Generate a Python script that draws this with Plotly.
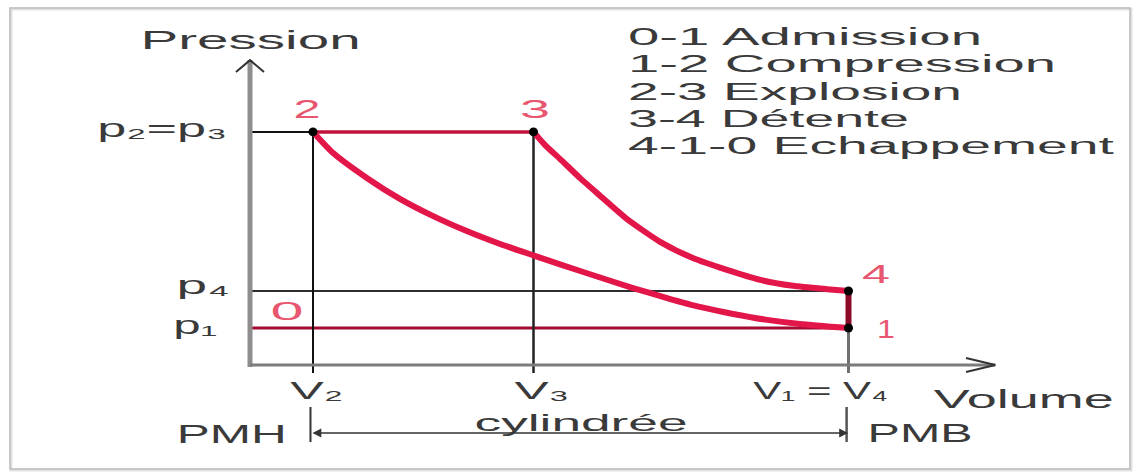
import json
import plotly.graph_objects as go

# ---------------- data (schematic units) ----------------
V2, V3, V1 = 10, 45, 95          # volumes V2, V3, V1 = V4
P1, P4, P2 = 10, 20, 63          # pressures p1, p4, p2 = p3
V_AXIS_END = 118.3               # end of volume axis arrow
P_AXIS_END = 82.4                # end of pressure axis arrow

compression_v = [10, 13.2, 18.6, 23.8, 29.0, 34.4, 39.7, 45.2, 52.4, 60.8, 66.2, 71.4, 76.7, 82.1, 87.3, 95]
compression_p = [63, 57.3, 50.5, 44.9, 40.3, 36.2, 32.7, 29.5, 25.4, 20.8, 18.1, 15.7, 13.8, 12.2, 11.1, 10]

detente_v = [45, 46.8, 49.2, 52.4, 55.6, 59.8, 65.1, 70.3, 75.7, 81.0, 86.2, 91.6, 95]
detente_p = [63, 59.5, 55.7, 50.5, 45.7, 39.5, 33.3, 28.9, 25.7, 23.0, 21.4, 20.5, 20]

point_names = ["2", "3", "4", "1"]
point_v = [V2, V3, V1, V1]
point_p = [P2, P2, P4, P1]

legend_lines = ["0-1 Admission", "1-2 Compression", "2-3 Explosion", "3-4 Détente", "4-1-0 Echappement"]

# ---------------- layout helpers (pixel -> axis units) ----------------
W, H = 1133, 472
OX, OY, KX, KY = 250, 365, 6.3, 3.7


def X(px):
    return (px - OX) / KX


def Y(py):
    return (OY - py) / KY


FONT = "Liberation Sans, Arial, DejaVu Sans, sans-serif"
TXT = "#3a3a3a"
RED_LBL = "#e8566f"
CRIMSON = "#e3164a"

fig = go.Figure()

# horizontal guide at p4 (dark) and admission line p1 (dark red)
fig.add_trace(go.Scatter(x=[0, V1], y=[P4, P4], mode="lines",
                         line=dict(color="#2e2e2e", width=2), hoverinfo="skip"))
fig.add_trace(go.Scatter(x=[0, V1], y=[P1, P1], mode="lines",
                         line=dict(color="#a10c30", width=3), hoverinfo="skip"))
# p2 guide from axis to V2
fig.add_trace(go.Scatter(x=[0, V2], y=[P2, P2], mode="lines",
                         line=dict(color="#111111", width=2), hoverinfo="skip"))
# vertical guides
for v, col, w in [(V2, "#111111", 2), (V3, "#222222", 2.5)]:
    fig.add_trace(go.Scatter(x=[v, v], y=[P2, Y(373)], mode="lines",
                             line=dict(color=col, width=w), hoverinfo="skip"))
fig.add_trace(go.Scatter(x=[V1, V1], y=[P1, Y(373)], mode="lines",
                         line=dict(color="#707070", width=3), hoverinfo="skip"))
# explosion 2-3
fig.add_trace(go.Scatter(x=[V2, V3], y=[P2, P2], mode="lines",
                         line=dict(color="#c0123a", width=3.5), hoverinfo="skip"))
# exhaust 4-1
fig.add_trace(go.Scatter(x=[V1, V1], y=[P4, P1], mode="lines",
                         line=dict(color="#8c0a28", width=6), hoverinfo="skip"))
# compression & detente curves
fig.add_trace(go.Scatter(x=compression_v, y=compression_p, mode="lines",
                         line=dict(color=CRIMSON, width=6, shape="spline", smoothing=0.6),
                         hoverinfo="skip"))
fig.add_trace(go.Scatter(x=detente_v, y=detente_p, mode="lines",
                         line=dict(color=CRIMSON, width=6, shape="spline", smoothing=0.6),
                         hoverinfo="skip"))
# state points
fig.add_trace(go.Scatter(x=point_v, y=point_p, mode="markers",
                         marker=dict(color="#000000", size=9), hoverinfo="skip"))

shapes = [
    # outer frame with soft shadow
    dict(type="rect", xref="paper", yref="paper", x0=11 / W, x1=1131 / W, y0=1 - 470 / H, y1=1 - 9 / H,
         line=dict(color="#e2e2e2", width=3)),
    dict(type="rect", xref="paper", yref="paper", x0=10 / W, x1=1130 / W, y0=1 - 469 / H, y1=1 - 8 / H,
         line=dict(color="#bdbdbd", width=1.5)),
    # axes
    dict(type="line", x0=0, x1=0, y0=Y(367), y1=P_AXIS_END, line=dict(color="#8e8e8e", width=5)),
    dict(type="line", x0=0, x1=V_AXIS_END, y0=0, y1=0, line=dict(color="#7c7c7c", width=3)),
    # arrow chevrons
    dict(type="path", path=f"M {X(236)},{Y(72)} L 0,{P_AXIS_END} L {X(264)},{Y(72)}",
         line=dict(color="#333333", width=2)),
    dict(type="path", path=f"M {X(966)},{Y(358)} L {V_AXIS_END},0 L {X(966)},{Y(372)}",
         line=dict(color="#333333", width=2)),
    # PMH / PMB ticks
    dict(type="line", x0=V2 - 0.4, x1=V2 - 0.4, y0=Y(407), y1=Y(442), line=dict(color="#333333", width=2)),
    dict(type="line", x0=V1 - 0.3, x1=V1 - 0.3, y0=Y(407), y1=Y(442), line=dict(color="#555555", width=2.5)),
]

annotations = []
widths = []


def label(text, xpx, ypx, width, size=25, color=TXT, xanchor="center"):
    annotations.append(dict(text=text, x=X(xpx), y=Y(ypx), xref="x", yref="y", showarrow=False,
                            xanchor=xanchor, yanchor="middle", align="left" if xanchor == "left" else "center",
                            font=dict(family=FONT, size=size, color=color)))
    widths.append(width)


label("Pression", 250, 40, 220, size=26)
for i, t in enumerate(legend_lines):
    w = [354, 428, 334, 281, 486][i]
    label(t, 626, 37 + 27.3 * i, w, size=23, xanchor="left")
label("p₂=p₃", 162, 128, 130)
label("p₄", 203, 285, 53)
label("p₁", 195, 325, 44)
label("V₂", 316, 390, 53, size=24)
label("V₃", 542, 390, 55, size=24)
label("V₁ = V₄", 820, 390, 135, size=24)
label("Volume", 1023, 399, 180)
label("cylindrée", 581, 422, 213, size=24)
label("PMH", 232, 434, 110)
label("PMB", 920, 433, 105)
# state point labels
label("2", 307, 109, 27, color=RED_LBL)
label("3", 535, 109, 30, color=RED_LBL)
label("4", 876, 274, 28, color=RED_LBL)
label("1", 886, 329, 18, color=RED_LBL)
label("0", 287, 311, 33, color=RED_LBL)

# cylindrée double arrow
annotations.append(dict(text="", x=X(848), y=Y(433), ax=X(311), ay=Y(433), xref="x", yref="y",
                        axref="x", ayref="y", showarrow=True, arrowside="end+start",
                        arrowhead=2, startarrowhead=2, arrowsize=1.1, startarrowsize=1.1,
                        arrowwidth=1.6, arrowcolor="#333333"))
widths.append(0)

fig.update_layout(
    width=W, height=H,
    margin=dict(l=0, r=0, t=0, b=0),
    paper_bgcolor="white", plot_bgcolor="white",
    showlegend=False,
    xaxis=dict(range=[X(0), X(W)], visible=False, fixedrange=True),
    yaxis=dict(range=[Y(H), Y(0)], visible=False, fixedrange=True),
    shapes=shapes,
    annotations=annotations,
)

post = """
document.documentElement.style.margin = '0';
document.body.style.margin = '0';
document.body.style.overflow = 'hidden';
var gd = document.getElementById('{plot_id}');
var TW = %s;
function stretchText(){
  var groups = gd.querySelectorAll('g.annotation');
  groups.forEach(function(g){
    var i = parseInt(g.getAttribute('data-index'));
    var w = TW[i];
    var t = g.querySelector('text.annotation-text');
    if (t && w) { t.setAttribute('textLength', w); t.setAttribute('lengthAdjust', 'spacingAndGlyphs'); }
  });
}
stretchText();
gd.on('plotly_afterplot', stretchText);
""" % json.dumps(widths)

fig.write_html("out.html", post_script=post, config={"displayModeBar": False})
